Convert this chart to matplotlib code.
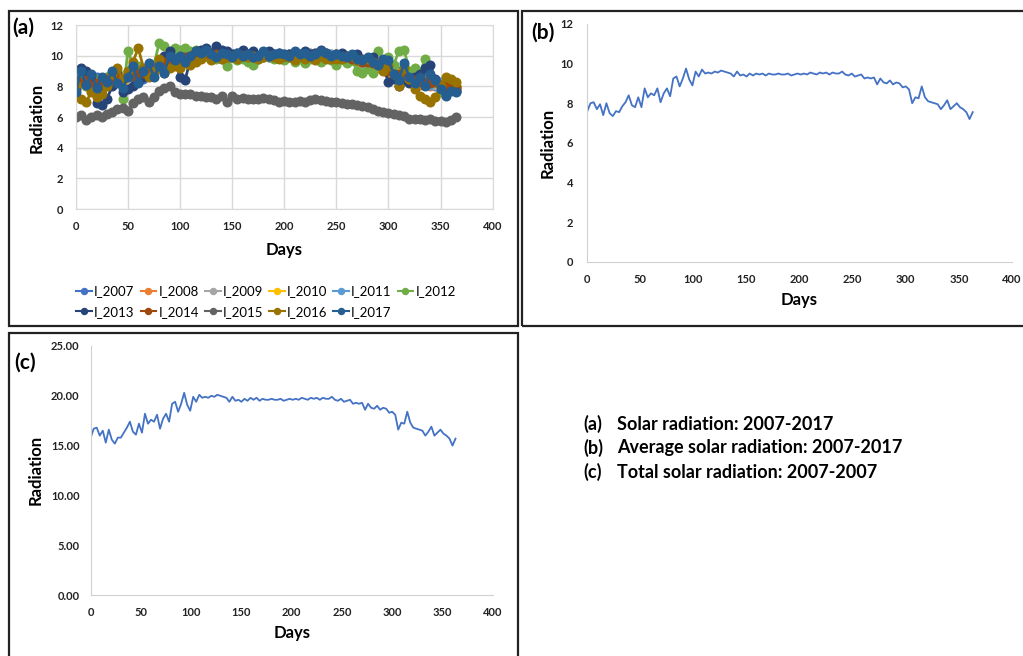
import numpy as np
import matplotlib
matplotlib.use("Agg")
import matplotlib.pyplot as plt
from matplotlib.patches import Rectangle

plt.rcParams['font.family'] = ['Lato', 'DejaVu Sans']

# ---- data ----
# (a) daily radiation per year, sampled every 5 days (day 0, 5, ..., 365)
years = ['I_2007', 'I_2008', 'I_2009', 'I_2010', 'I_2011', 'I_2012',
         'I_2013', 'I_2014', 'I_2015', 'I_2016', 'I_2017']
year_colors = ['#4472C4', '#ED7D31', '#A5A5A5', '#FFC000', '#5B9BD5', '#70AD47',
               '#264478', '#9E480E', '#636363', '#997300', '#255E91']

I_2007 = [8.0, 8.7, 8.4, 7.8, 8.6, 8.2, 8.1, 8.7, 8.9, 8.2,
          9.0, 8.6, 9.2, 8.5, 9.1, 9.4, 9.3, 9.8, 9.5, 9.9,
          9.5, 10.1, 9.8, 10.3, 10.0, 10.2, 9.9, 10.1, 9.8, 10.0,
          9.9, 10.1, 9.9, 10.1, 9.8, 10.0, 10.1, 9.9, 10.0, 10.1,
          9.9, 10.1, 10.0, 9.9, 10.1, 10.2, 10.0, 10.1, 10.0, 9.9,
          10.1, 9.8, 10.0, 9.7, 9.8, 9.5, 9.7, 9.4, 9.6, 9.2,
          9.3, 8.6, 9.0, 8.5, 8.7, 8.2, 8.5, 8.1, 8.4, 8.0,
          8.3, 7.8, 8.2, 7.7]
I_2008 = [8.4, 8.2, 8.0, 8.3, 8.1, 7.8, 8.6, 8.3, 8.4, 8.7,
          8.6, 9.1, 8.7, 9.0, 8.8, 9.0, 9.7, 9.4, 9.9, 9.4,
          9.8, 9.7, 10.2, 9.9, 10.3, 10.0, 10.2, 9.9, 10.1, 9.8,
          10.1, 9.9, 10.0, 9.9, 10.0, 9.8, 9.9, 10.1, 9.9, 10.0,
          10.1, 9.9, 10.0, 10.1, 9.9, 10.0, 10.2, 9.9, 10.0, 10.1,
          9.9, 10.0, 9.8, 9.9, 9.6, 9.7, 9.4, 9.6, 9.2, 9.4,
          8.9, 9.0, 8.6, 8.9, 8.3, 8.6, 8.1, 8.5, 8.0, 8.4,
          7.9, 8.2, 7.8, 8.0]
I_2009 = [8.3, 8.4, 8.5, 8.1, 8.0, 8.2, 8.6, 8.3, 8.4, 8.6,
          8.7, 9.0, 8.8, 9.0, 8.9, 9.3, 9.4, 9.7, 9.6, 9.8,
          9.6, 10.0, 10.1, 9.9, 10.2, 10.0, 10.0, 10.1, 9.9, 10.0,
          10.0, 9.9, 10.1, 10.0, 9.9, 10.0, 9.9, 10.0, 10.1, 9.9,
          10.0, 10.1, 9.9, 10.0, 10.0, 10.0, 10.1, 10.0, 10.0, 10.0,
          10.0, 9.9, 9.9, 9.7, 9.8, 9.5, 9.6, 9.4, 9.3, 9.2,
          9.0, 8.9, 8.7, 8.6, 8.6, 8.3, 8.4, 8.2, 8.3, 8.1,
          8.2, 7.9, 8.1, 7.8]
I_2010 = [8.1, 8.6, 8.3, 8.2, 8.4, 8.1, 8.3, 8.6, 8.5, 8.3,
          8.9, 8.8, 9.0, 8.7, 9.1, 9.1, 9.6, 9.5, 9.8, 9.7,
          9.8, 9.8, 9.9, 10.2, 10.0, 10.1, 10.2, 9.9, 10.0, 10.0,
          9.9, 10.1, 9.9, 10.0, 10.0, 9.9, 10.0, 10.1, 9.9, 10.1,
          10.0, 9.9, 10.1, 10.0, 9.9, 10.1, 10.0, 10.1, 10.0, 9.9,
          10.1, 9.8, 10.0, 9.7, 9.7, 9.6, 9.5, 9.6, 9.3, 9.4,
          9.1, 8.7, 8.9, 8.6, 8.4, 8.5, 8.2, 8.3, 8.3, 8.2,
          8.0, 8.1, 7.9, 8.0]
I_2011 = [8.5, 8.3, 8.1, 8.2, 8.2, 8.3, 8.2, 8.4, 8.7, 8.5,
          8.7, 8.9, 9.0, 8.9, 8.9, 9.2, 9.4, 9.6, 9.7, 9.5,
          9.9, 9.9, 10.0, 10.0, 10.1, 10.2, 10.0, 10.0, 10.1, 9.9,
          10.1, 10.0, 10.0, 9.9, 9.9, 10.0, 10.0, 9.9, 10.0, 10.0,
          10.1, 10.0, 10.0, 10.1, 10.0, 10.0, 10.1, 10.0, 10.2, 10.1,
          9.9, 9.9, 9.8, 9.8, 9.7, 9.6, 9.7, 9.5, 9.5, 9.3,
          9.2, 8.9, 8.7, 8.8, 8.5, 8.4, 8.4, 8.3, 8.1, 8.4,
          8.2, 8.0, 8.1, 7.9]
I_2012 = [8.3, 8.5, 8.0, 7.8, 8.4, 8.2, 8.6, 8.8, 9.0, 7.2,
          10.3, 9.4, 9.3, 9.0, 8.8, 9.4, 10.8, 10.6, 10.0, 10.5,
          10.4, 10.5, 10.3, 10.4, 10.2, 10.0, 10.1, 9.8, 9.9, 9.3,
          9.9, 9.7, 9.8, 9.6, 9.4, 9.8, 9.9, 10.0, 9.8, 9.9,
          9.7, 9.9, 9.6, 9.8, 9.5, 9.8, 9.9, 9.6, 9.9, 9.7,
          9.4, 9.8, 9.5, 9.7, 9.0, 8.9, 9.1, 8.9, 10.3, 9.6,
          9.9, 9.4, 10.3, 10.4, 9.0, 9.2, 8.8, 9.8, 8.6, 8.3,
          7.6, 7.8, 8.2, 8.0]
I_2013 = [7.8, 9.2, 9.0, 8.7, 6.9, 6.8, 7.2, 8.0, 8.8, 7.6,
          7.8, 8.0, 8.3, 8.6, 8.9, 9.0, 9.3, 10.0, 10.3, 9.8,
          8.6, 8.4, 9.8, 10.3, 10.4, 10.5, 10.2, 10.6, 10.4, 10.3,
          10.1, 10.2, 10.4, 10.1, 10.3, 10.0, 10.2, 10.3, 10.1, 10.2,
          10.0, 10.1, 10.2, 10.0, 10.3, 10.1, 10.2, 10.4, 10.2, 10.0,
          10.1, 10.2, 10.0, 9.9, 10.1, 9.8, 9.8, 9.9, 9.5, 9.3,
          8.3, 8.5, 8.0, 8.4, 8.2, 8.6, 8.8, 9.2, 9.4, 8.5,
          8.0, 7.5, 8.0, 7.7]
I_2014 = [8.2, 8.3, 8.4, 8.0, 8.2, 8.1, 8.5, 8.4, 8.6, 8.5,
          8.8, 8.7, 8.9, 8.9, 9.0, 9.1, 9.5, 9.6, 9.6, 9.6,
          9.7, 9.9, 10.0, 10.0, 10.1, 10.1, 10.0, 10.1, 10.0, 9.9,
          10.0, 10.0, 10.0, 10.0, 9.9, 9.9, 10.0, 10.0, 10.0, 10.0,
          10.0, 10.0, 10.0, 10.0, 10.0, 10.0, 10.0, 10.0, 10.0, 10.0,
          10.0, 9.9, 9.9, 9.8, 9.7, 9.6, 9.6, 9.5, 9.4, 9.3,
          9.0, 8.8, 8.8, 8.7, 8.5, 8.4, 8.3, 8.3, 8.2, 8.3,
          8.1, 8.0, 8.0, 7.9]
I_2015 = [6.0, 6.1, 5.8, 6.0, 6.1, 6.0, 6.2, 6.3, 6.5, 6.6,
          6.4, 6.9, 7.2, 7.3, 7.0, 7.3, 7.7, 7.9, 8.0, 7.6,
          7.5, 7.5, 7.5, 7.4, 7.4, 7.3, 7.3, 7.2, 7.35, 7.0,
          7.4, 7.2, 7.25, 7.2, 7.15, 7.2, 7.25, 7.15, 7.1, 7.0,
          7.05, 7.0, 7.0, 7.05, 7.0, 7.1, 7.15, 7.1, 7.05, 7.0,
          6.95, 6.9, 6.85, 6.85, 6.8, 6.75, 6.65, 6.5, 6.4, 6.35,
          6.25, 6.2, 6.1, 6.05, 5.9, 5.85, 5.85, 5.8, 5.85, 5.75,
          5.75, 5.7, 5.8, 6.0]
I_2016 = [8.1, 7.2, 7.0, 7.6, 7.3, 7.5, 8.0, 8.8, 9.2, 8.5,
          9.0, 9.6, 10.5, 9.2, 8.6, 9.0, 9.8, 8.9, 9.2, 9.3,
          9.2, 9.5, 9.4, 9.6, 9.8, 10.3, 9.7, 10.0, 9.8, 9.9,
          9.9, 9.8, 10.0, 9.9, 10.0, 9.8, 9.9, 10.0, 9.9, 9.8,
          10.0, 9.9, 9.7, 10.0, 9.8, 9.9, 9.7, 10.0, 9.8, 9.8,
          9.8, 9.8, 9.9, 10.0, 9.7, 9.7, 9.8, 9.6, 9.5, 9.0,
          9.3, 8.8, 8.0, 9.2, 8.5, 7.8, 7.4, 7.2, 7.0, 7.3,
          8.0, 8.6, 8.5, 8.3]
I_2017 = [7.6, 9.0, 8.1, 8.8, 7.9, 8.6, 8.3, 9.0, 8.2, 7.9,
          8.6, 9.3, 8.2, 9.0, 9.5, 8.6, 9.3, 8.9, 10.0, 9.7,
          10.0, 9.6, 10.0, 10.3, 10.2, 10.4, 10.1, 9.9, 10.2, 10.1,
          9.9, 10.2, 10.0, 10.1, 9.9, 10.0, 10.3, 10.0, 10.1, 10.2,
          10.1, 10.0, 10.3, 10.1, 10.2, 10.0, 10.1, 10.3, 10.2, 10.0,
          10.1, 10.0, 9.9, 10.1, 9.8, 9.7, 9.9, 9.6, 9.4, 9.8,
          9.7, 8.8, 8.4, 9.5, 8.6, 8.2, 8.6, 8.0, 8.8, 8.4,
          7.8, 7.4, 7.7, 7.6]
year_series = [I_2007, I_2008, I_2009, I_2010, I_2011, I_2012,
               I_2013, I_2014, I_2015, I_2016, I_2017]

# (b) average radiation, every 3 days (day 0, 3, ..., 363)
avg_rad = [7.6, 8.0, 8.05, 7.7, 7.95, 7.4, 8.0, 7.5, 7.35, 7.6,
           7.55, 7.85, 8.05, 8.4, 7.9, 7.8, 8.3, 7.8, 8.75, 8.3,
           8.5, 8.4, 8.75, 8.05, 8.5, 8.75, 8.35, 9.25, 9.35, 8.85,
           9.25, 9.75, 9.2, 8.9, 9.6, 9.35, 9.7, 9.5, 9.55, 9.5,
           9.6, 9.55, 9.65, 9.6, 9.55, 9.5, 9.35, 9.6, 9.4, 9.45,
           9.35, 9.5, 9.4, 9.5, 9.45, 9.5, 9.4, 9.5, 9.45, 9.45,
           9.5, 9.45, 9.45, 9.5, 9.4, 9.45, 9.5, 9.45, 9.5, 9.45,
           9.55, 9.5, 9.45, 9.55, 9.5, 9.55, 9.45, 9.55, 9.5, 9.5,
           9.6, 9.45, 9.4, 9.5, 9.35, 9.4, 9.45, 9.25, 9.3, 9.25,
           9.3, 8.95, 9.25, 9.05, 9.0, 9.15, 8.95, 9.05, 9.0, 8.8,
           8.85, 8.7, 8.0, 8.3, 8.25, 8.85, 8.3, 8.1, 8.05, 8.0,
           7.95, 7.7, 7.9, 8.15, 7.7, 7.85, 8.0, 7.8, 7.7, 7.55,
           7.2, 7.55]

# (c) total radiation, every 3 days (day 0, 3, ..., 363)
tot_rad = [15.8, 16.7, 16.8, 16.0, 16.5, 15.3, 16.6, 15.6, 15.2, 15.8,
           15.8, 16.3, 16.8, 17.4, 16.4, 16.1, 17.2, 16.3, 18.2, 17.2,
           17.6, 17.4, 18.1, 16.7, 17.7, 18.2, 17.4, 19.2, 19.4, 18.4,
           19.2, 20.3, 19.1, 18.5, 19.9, 19.4, 20.1, 19.8, 19.9, 19.8,
           20.0, 19.9, 20.1, 20.0, 19.9, 19.8, 19.4, 19.9, 19.5, 19.6,
           19.4, 19.7, 19.5, 19.8, 19.6, 19.8, 19.5, 19.7, 19.6, 19.6,
           19.7, 19.6, 19.6, 19.7, 19.5, 19.6, 19.7, 19.6, 19.7, 19.6,
           19.8, 19.7, 19.6, 19.8, 19.7, 19.8, 19.6, 19.8, 19.7, 19.7,
           19.9, 19.6, 19.5, 19.7, 19.4, 19.5, 19.6, 19.2, 19.3, 19.2,
           19.3, 18.6, 19.2, 18.8, 18.7, 19.0, 18.6, 18.8, 18.7, 18.3,
           18.4, 18.1, 16.6, 17.3, 17.2, 18.4, 17.3, 16.8, 16.7, 16.6,
           16.5, 16.0, 16.4, 16.9, 16.0, 16.3, 16.6, 16.2, 16.0, 15.7,
           15.0, 15.7]

note_tags = ['(a)', '(b)', '(c)']
note_texts = ['Solar radiation: 2007-2017',
              'Average solar radiation: 2007-2017',
              'Total solar radiation: 2007-2007']

W, H = 1023, 656
fig = plt.figure(figsize=(W / 100, H / 100), dpi=100)


def box(x0, y0, x1, y1):
    # pixel box -> figure fraction [l, b, w, h]
    return [x0 / W, 1 - y1 / H, (x1 - x0) / W, (y1 - y0) / H]


def frame(x0, y0, x1, y1):
    l, b, w, h = box(x0, y0, x1, y1)
    fig.add_artist(Rectangle((l, b), w, h, transform=fig.transFigure,
                             fill=False, ec='#222222', lw=1.6))


def ftext(x, y, s, **kw):
    fig.text(x / W, 1 - y / H, s, **kw)


def style_ticks(ax, ypad, xpad):
    ax.tick_params(axis='both', labelsize=8, length=0, colors='#222222')
    ax.tick_params(axis='y', pad=ypad)
    ax.tick_params(axis='x', pad=xpad)
    for lab in ax.get_xticklabels() + ax.get_yticklabels():
        lab.set_fontweight('bold')


axis_grey = '#D0D0D0'
lab_fs = 12

# ---- (a) ----
frame(9, 11, 518, 326)
ax_a = fig.add_axes(box(75.7, 25, 492.7, 209))
for name, col, vals in zip(years, year_colors, year_series):
    d = np.arange(len(vals)) * 5
    ax_a.plot(d, vals, '-o', color=col, lw=2, ms=6.2, mec=col, label=name)
ax_a.set_xlim(0, 400)
ax_a.set_ylim(0, 12)
ax_a.set_xticks(np.arange(0, 401, 50))
ax_a.set_yticks(np.arange(0, 13, 2))
ax_a.grid(True, color='#D9D9D9', lw=1)
ax_a.set_axisbelow(True)
for s in ax_a.spines.values():
    s.set_color('#D9D9D9')
style_ticks(ax_a, 9, 9)
ftext(284, 250, 'Days', ha='center', va='center', fontsize=lab_fs, fontweight='bold')
ftext(37, 118, 'Radiation', ha='center', va='center', rotation=90, fontsize=lab_fs, fontweight='bold')
ftext(12, 28, '(a)', ha='left', va='center', fontsize=15, fontweight='bold')

# legend filled row by row: 2007-2012 on top, 2013-2017 below
handles, labels = ax_a.get_legend_handles_labels()
order = [0, 6, 1, 7, 2, 8, 3, 9, 4, 10, 5]
leg = fig.legend([handles[i] for i in order], [labels[i] for i in order],
                 loc='center', bbox_to_anchor=(266 / W, 1 - 301.5 / H), ncol=6,
                 frameon=False, fontsize=9.5, handlelength=1.2, handletextpad=0.15,
                 columnspacing=0.45, labelspacing=0.65, markerscale=0.7)
for h in leg.legend_handles:
    h.set_linewidth(1.5)

# ---- (b) ----
frame(522, 11, 1040, 326)
ax_b = fig.add_axes(box(587.3, 24, 1012, 261.7))
ax_b.plot(np.arange(len(avg_rad)) * 3, avg_rad, color='#4472C4', lw=1.3)
ax_b.set_xlim(0, 400)
ax_b.set_ylim(0, 12)
ax_b.set_xticks(np.arange(0, 401, 50))
ax_b.set_yticks(np.arange(0, 13, 2))
for k in ['top', 'right']:
    ax_b.spines[k].set_visible(False)
for k in ['left', 'bottom']:
    ax_b.spines[k].set_color(axis_grey)
style_ticks(ax_b, 10, 9)
ftext(799, 300, 'Days', ha='center', va='center', fontsize=lab_fs, fontweight='bold')
ftext(548, 143, 'Radiation', ha='center', va='center', rotation=90, fontsize=lab_fs, fontweight='bold')
ftext(531, 33, '(b)', ha='left', va='center', fontsize=15, fontweight='bold')

# ---- (c) ----
frame(9, 333, 518, 670)
ax_c = fig.add_axes(box(90.7, 346, 492.7, 595))
ax_c.plot(np.arange(len(tot_rad)) * 3, tot_rad, color='#4472C4', lw=1.3)
ax_c.set_xlim(0, 400)
ax_c.set_ylim(0, 25)
ax_c.set_xticks(np.arange(0, 401, 50))
ax_c.set_yticks(np.arange(0, 26, 5))
ax_c.set_yticklabels([f'{v:.2f}' for v in np.arange(0, 26, 5)])
for k in ['top', 'right']:
    ax_c.spines[k].set_visible(False)
for k in ['left', 'bottom']:
    ax_c.spines[k].set_color(axis_grey)
style_ticks(ax_c, 8, 9)
ftext(292, 633, 'Days', ha='center', va='center', fontsize=lab_fs, fontweight='bold')
ftext(36, 470, 'Radiation', ha='center', va='center', rotation=90, fontsize=lab_fs, fontweight='bold')
ftext(14, 363, '(c)', ha='left', va='center', fontsize=15, fontweight='bold')

# ---- notes ----
for i, (tag, s) in enumerate(zip(note_tags, note_texts)):
    ftext(583, 424 + i * 24, tag, ha='left', va='center', fontsize=13, fontweight='bold')
    ftext(617, 424 + i * 24, s, ha='left', va='center', fontsize=13, fontweight='bold')

fig.savefig('out.png', dpi=100)
